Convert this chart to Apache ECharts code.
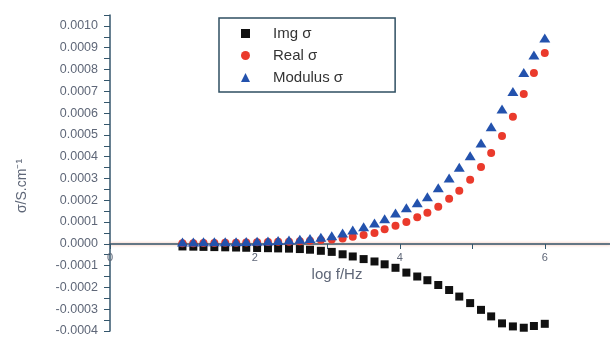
<!DOCTYPE html>
<html>
<head>
<meta charset="utf-8">
<script src="https://cdn.jsdelivr.net/npm/echarts@6/dist/echarts.min.js"></script>
<style>
  html, body { margin: 0; padding: 0; background: #fff; }
  #chart { width: 610px; height: 338px; }
</style>
</head>
<body>
<div id="chart"></div>
<script>
var logF = [1.00, 1.15, 1.29, 1.44, 1.59, 1.74, 1.88, 2.03, 2.18, 2.32, 2.47, 2.62, 2.76, 2.91, 3.06, 3.21, 3.35, 3.50,
    3.65, 3.79, 3.94, 4.09, 4.24, 4.38, 4.53, 4.68, 4.82, 4.97, 5.12, 5.26, 5.41, 5.56, 5.71, 5.85, 6.00];

var imgSigma = [-0.000012, -0.000013, -0.000014, -0.000015, -0.000016, -0.000017, -0.000018, -0.000019, -0.00002,
    -0.000021, -0.000022, -0.000024, -0.000027, -0.000032, -0.000037, -0.000048, -0.000058, -0.00007, -0.000081,
    -0.000094, -0.00011, -0.000132, -0.00015, -0.000167, -0.000189, -0.000212, -0.000242, -0.000272, -0.000303,
    -0.000333, -0.000365, -0.000379, -0.000385, -0.000377, -0.000367];

var realSigma = [0.000003, 0.000003, 0.000004, 0.000004, 0.000005, 0.000005, 0.000006, 0.000007, 0.000008, 0.000009,
    0.00001, 0.000012, 0.000014, 0.000017, 0.00002, 0.000025, 0.000032, 0.00004, 0.00005, 0.000067, 0.000083,
    0.0001, 0.000122, 0.000143, 0.00017, 0.000207, 0.000243, 0.000294, 0.000353, 0.000417, 0.000495, 0.000583,
    0.000688, 0.000784, 0.000876];

var modulusSigma = [0.000008, 0.000008, 0.000009, 0.000009, 0.00001, 0.00001, 0.000011, 0.000012, 0.000013, 0.000015,
    0.000018, 0.000021, 0.000025, 0.00003, 0.000037, 0.00005, 0.000063, 0.000078, 0.000096, 0.000115, 0.000142,
    0.000165, 0.000188, 0.000216, 0.000257, 0.000302, 0.000351, 0.000404, 0.000463, 0.000537, 0.000619, 0.000699,
    0.000786, 0.000867, 0.000945];

var seriesNames = ['Img σ', 'Real σ', 'Modulus σ'];

function pairs(xs, ys) {
    return xs.map(function (x, i) { return [x, ys[i]]; });
}

var axisColor = '#34566c';
var textColor = '#5f6778';
var font = 'Liberation Sans, Arial, sans-serif';

var myChart = echarts.init(document.getElementById('chart'));

// grid 0 holds the data; grid 1 only carries the x axis, its bottom sits on y = 0
var option = {
    animation: false,
    grid: [
        { left: 110, right: 0, top: 15, bottom: 7, outerBoundsMode: 'none' },
        { left: 110, right: 0, top: 15, bottom: 94, outerBoundsMode: 'none' }
    ],
    legend: {
        orient: 'vertical',
        left: 219,
        top: 18,
        padding: [8, 52, 7, 22],
        itemGap: 7,
        itemWidth: 9,
        itemHeight: 9,
        borderColor: '#2f4f62',
        borderWidth: 1.5,
        textStyle: { fontFamily: font, fontSize: 15, color: '#333', lineHeight: 14, padding: [0, 0, 0, 18] },
        data: [
            { name: seriesNames[0], icon: 'rect' },
            { name: seriesNames[1], icon: 'circle' },
            { name: seriesNames[2], icon: 'triangle' }
        ]
    },
    xAxis: [
        { type: 'value', gridIndex: 0, min: 0, max: 6.9, show: false },
        {
            type: 'value',
            gridIndex: 1,
            min: 0,
            max: 6.9,
            interval: 1,
            axisLine: { onZero: false, lineStyle: { color: axisColor, width: 1.5, shadowColor: 'rgba(235,120,80,0.7)', shadowBlur: 3 } },
            axisTick: { length: 5, lineStyle: { color: axisColor } },
            axisLabel: {
                color: textColor, fontFamily: font, fontSize: 11, margin: 8,
                formatter: function (v) { return Math.round(v) === v && v % 2 === 0 ? String(v) : ''; }
            },
            splitLine: { show: false }
        }
    ],
    yAxis: [
        {
            type: 'value',
            gridIndex: 0,
            min: -0.0004,
            max: 0.00105,
            interval: 0.00005,
            axisLine: { show: true, onZero: false, lineStyle: { color: axisColor, width: 1.5 } },
            axisTick: { length: 6, lineStyle: { color: axisColor } },
            axisLabel: {
                color: textColor, fontFamily: font, fontSize: 12.5, margin: 12,
                formatter: function (v) {
                    var k = Math.round(v * 20000);
                    if (k % 2 !== 0) return '';
                    return (k / 20000).toFixed(4);
                }
            },
            splitLine: { show: false }
        },
        { type: 'value', gridIndex: 1, min: 0, max: 1, show: false }
    ],
    graphic: [
        {
            type: 'text', x: 22, y: 186, rotation: Math.PI / 2,
            style: { text: 'σ/S.cm⁻¹', fill: textColor, font: '14px ' + font, align: 'center', verticalAlign: 'middle' }
        },
        {
            type: 'text', x: 337, y: 275,
            style: { text: 'log f/Hz', fill: textColor, font: '15px ' + font, align: 'center', verticalAlign: 'middle' }
        }
    ],
    series: [
        {
            name: seriesNames[0], type: 'scatter', symbol: 'rect', symbolSize: 8,
            itemStyle: { color: '#111111', opacity: 1 },
            data: pairs(logF, imgSigma)
        },
        {
            name: seriesNames[1], type: 'scatter', symbol: 'circle', symbolSize: 8,
            itemStyle: { color: '#ea3a2c', opacity: 1 },
            data: pairs(logF, realSigma)
        },
        {
            name: seriesNames[2], type: 'scatter', symbol: 'triangle', symbolSize: [11, 9],
            itemStyle: { color: '#2352ad', opacity: 1 },
            data: pairs(logF, modulusSigma)
        }
    ]
};

myChart.setOption(option);
</script>
</body>
</html>
